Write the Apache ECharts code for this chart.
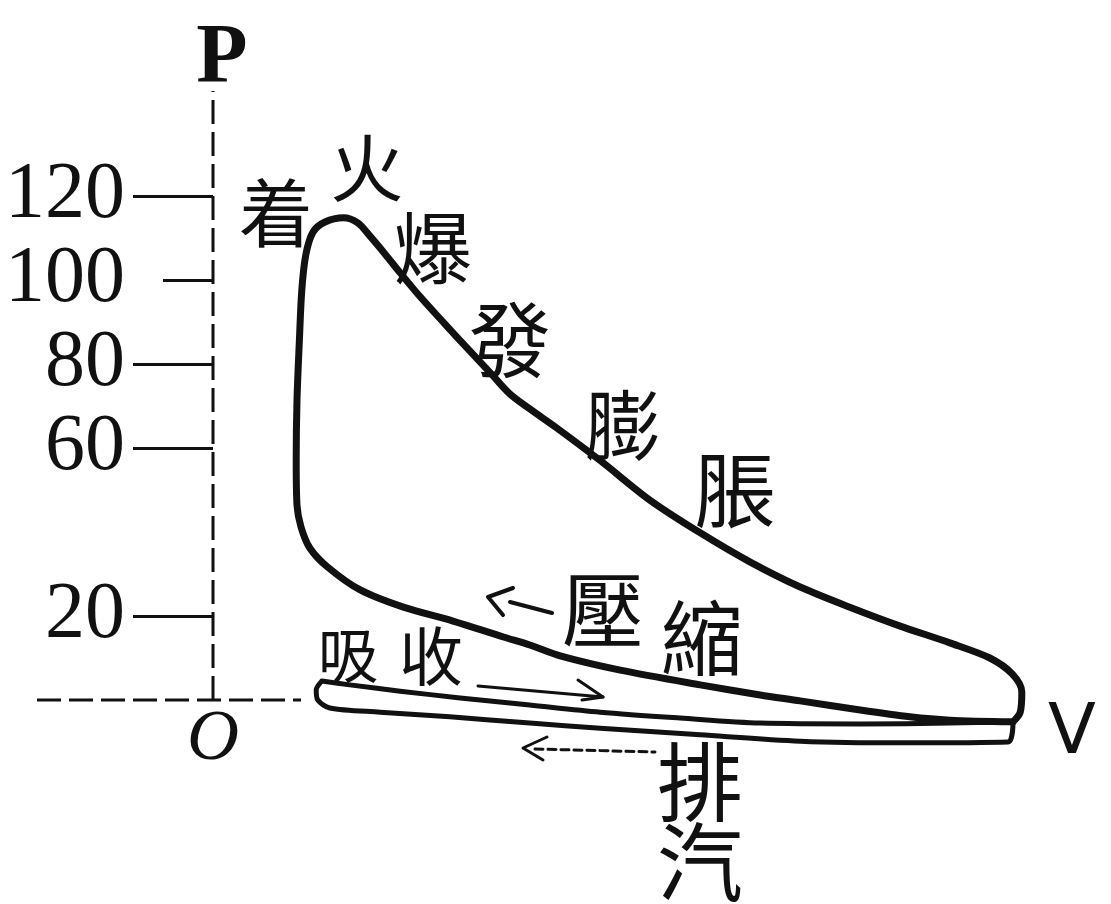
<!DOCTYPE html>
<html>
<head>
<meta charset="utf-8">
<script src="https://cdn.jsdelivr.net/npm/echarts@6/dist/echarts.min.js"></script>
<style>
  html, body { margin: 0; padding: 0; background: #fff; }
  #chart { width: 1111px; height: 904px; }
</style>
</head>
<body>
<div id="chart"></div>
<script>
// Indicator (P–V) diagram of a four-stroke engine.
// Pressure axis ticks and their labels.
const pressureTicks = [120, 100, 80, 60, 20];
const longTickValues = [120, 80, 60, 20];
const shortTickValues = [100];

// Dashed reference axes through the origin, as [volume, pressure] ends.
const pressureRule = [[0, 0], [0, 145]];
const volumeRule = [[-22, 0], [11, 0]];

// Strokes of the cycle as [volume, pressure] pairs.
const compressionStroke = [
  [100.0, -5.2], [92.1, -4.8], [87.1, -4.0], [80.9, -2.4], [73.4, -0.2],
  [68.4, 1.2], [60.9, 3.6], [50.9, 7.1], [43.4, 10.5], [39.6, 13.1],
  [36.3, 15.0], [30.0, 18.8], [23.8, 22.1], [18.4, 26.2], [14.3, 31.7],
  [12.1, 36.2], [11.0, 41.2], [10.5, 46.4]
];
const ignitionStroke = [
  [10.4, 57.1], [10.5, 71.4], [10.8, 85.7], [11.1, 97.6], [11.6, 106.0],
  [12.5, 111.4], [14.0, 113.8], [16.3, 114.8]
];
const expansionStroke = [
  [18.1, 113.6], [19.6, 110.5], [21.5, 106.2], [23.4, 101.7], [25.9, 96.0],
  [29.0, 89.5], [32.1, 83.1], [34.9, 77.4], [37.1, 72.9], [39.6, 69.3],
  [42.8, 65.0], [48.4, 57.0], [54.6, 47.6], [60.9, 39.8], [67.1, 32.9],
  [73.4, 26.9], [79.6, 22.1], [85.9, 17.6], [92.1, 13.6], [97.1, 10.0],
  [99.9, 6.2], [101.1, 1.9], [100.9, -2.9], [100.0, -5.2]
];
const intakeStroke = [
  [13.6, 4.5], [17.1, 3.6], [23.4, 2.1], [30.9, 0.5], [39.6, -1.2],
  [48.4, -2.9], [58.4, -4.3], [68.4, -5.5], [80.9, -5.7], [92.1, -5.5],
  [100.0, -5.2]
];
const exhaustStroke = [
  [99.4, -10.0], [85.9, -10.2], [73.4, -9.8], [60.9, -8.3], [48.4, -6.7],
  [39.6, -5.5], [29.6, -4.0], [20.9, -2.9], [14.6, -1.9], [13.1, 0.0],
  [12.9, 2.4], [13.6, 4.5]
];

const INK = '#111';
const SERIF = '"Liberation Serif", "DejaVu Serif", serif';
const CJK = '"Noto Sans CJK TC", "Noto Sans CJK JP", sans-serif';

const workLoop = compressionStroke.concat(ignitionStroke, expansionStroke);
const pumpingLoop = intakeStroke.concat(exhaustStroke);

function cjk(text, x, y, size) {
  return {
    type: 'text', x: x, y: y, z: 10,
    style: {
      text: text, fill: INK, font: 'normal ' + size + 'px ' + CJK,
      textAlign: 'center', textVerticalAlign: 'middle'
    }
  };
}
function stroke(points, width, dash) {
  return {
    type: 'polyline', z: 10,
    shape: { points: points },
    style: { stroke: INK, lineWidth: width, lineDash: dash || null, lineCap: 'round', lineJoin: 'round', fill: null }
  };
}
function rule(data) {
  return {
    type: 'line', data: data, symbol: 'none', silent: true,
    lineStyle: { color: INK, width: 3, type: [24, 8] }
  };
}

const chart = echarts.init(document.getElementById('chart'), null, { renderer: 'canvas' });
chart.setOption({
  backgroundColor: '#fff',
  animation: false,
  grid: { left: 37, right: 18, top: 91, bottom: 141, containLabel: false },
  xAxis: {
    // placed on the P = 0 line (63 px above the grid bottom)
    type: 'value', min: -22, max: 110, position: 'bottom', offset: -63,
    axisLine: { show: false, onZero: false },
    axisTick: { show: false },
    splitLine: { show: false },
    axisLabel: {
      customValues: [0], formatter: function () { return 'O'; },
      margin: 4, color: INK, fontFamily: SERIF, fontStyle: 'italic', fontSize: 72
    },
    name: 'V', nameLocation: 'end', nameGap: -45,
    nameTextStyle: {
      color: INK, fontFamily: '"DejaVu Sans", sans-serif', fontSize: 70,
      align: 'left', verticalAlign: 'top'
    }
  },
  yAxis: [{
    type: 'value', min: -15, max: 145, position: 'left', offset: -176,
    axisLine: { show: false, onZero: false },
    axisTick: { show: true, length: 80, customValues: longTickValues, lineStyle: { color: INK, width: 3 } },
    splitLine: { show: false },
    axisLabel: {
      customValues: pressureTicks, margin: 88, color: INK,
      fontFamily: SERIF, fontSize: 80
    },
    name: 'P', nameLocation: 'end', nameGap: -11,
    nameTextStyle: { color: INK, fontFamily: SERIF, fontWeight: 'bold', fontSize: 84, padding: [0, 0, 0, 18] }
  }, {
    type: 'value', min: -15, max: 145, position: 'left', offset: -176,
    axisLine: { show: false, onZero: false },
    axisTick: { show: true, length: 50, customValues: shortTickValues, lineStyle: { color: INK, width: 3 } },
    axisLabel: { show: false },
    splitLine: { show: false }
  }],
  series: [rule(pressureRule), rule(volumeRule), {
    name: '壓縮・爆發・膨脹', type: 'line', data: workLoop,
    symbol: 'none', smooth: 0.3,
    lineStyle: { color: INK, width: 7, cap: 'round', join: 'round' }
  }, {
    name: '吸收・排汽', type: 'line', data: pumpingLoop,
    symbol: 'none', smooth: 0.3,
    lineStyle: { color: INK, width: 5, cap: 'round', join: 'round' }
  }],
  graphic: [
    cjk('着', 276, 213, 74),
    cjk('火', 367, 168, 74),
    cjk('爆', 433, 248, 78),
    cjk('發', 510, 340, 82),
    cjk('膨', 623, 425, 76),
    cjk('脹', 735, 490, 82),
    cjk('壓', 603, 610, 82),
    cjk('縮', 702, 638, 82),
    cjk('吸', 348, 655, 60),
    cjk('收', 431, 656, 64),
    cjk('排', 700, 782, 86),
    cjk('汽', 700, 862, 86),
    // compression direction
    stroke([[510, 602], [552, 613]], 4),
    stroke([[513, 588], [488, 597], [503, 615]], 4),
    // intake direction
    stroke([[478, 686], [603, 697]], 3),
    stroke([[578, 680], [603, 697], [582, 700]], 3),
    // exhaust direction
    stroke([[535, 749], [655, 752]], 3, [8, 5]),
    stroke([[547, 737], [523, 748], [543, 760]], 3)
  ]
});
</script>
</body>
</html>
